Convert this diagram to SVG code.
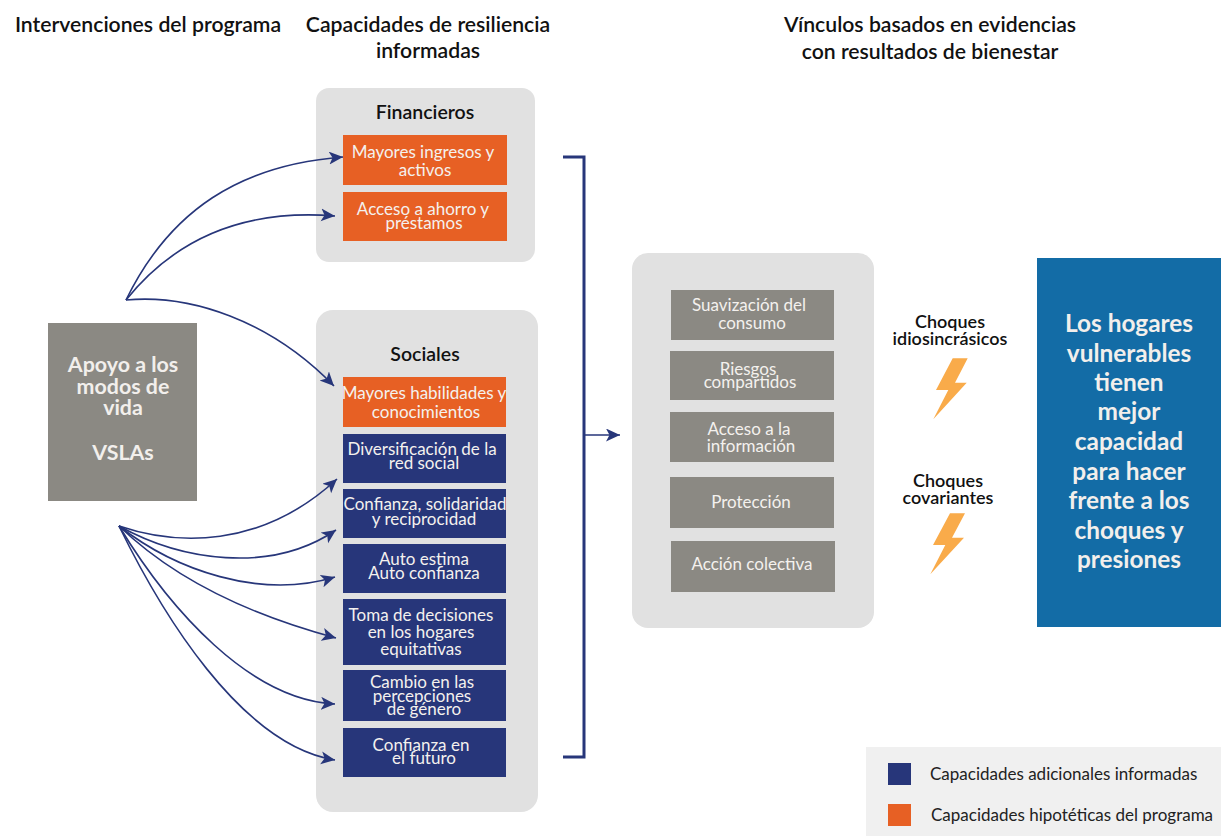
<svg xmlns="http://www.w3.org/2000/svg" width="1221" height="836" viewBox="0 0 1221 836">
<defs>
<marker id="ah" markerUnits="userSpaceOnUse" markerWidth="16" markerHeight="14" refX="14" refY="6.5" orient="auto"><path d="M0,0 L14,6.5 L0,13 L3.5,6.5 Z" fill="#27367a"/></marker>
</defs>
<style>
text{font-family:Lato,"Open Sans",sans-serif;text-anchor:middle}
.h{font-size:21.2px;font-weight:600;fill:#111}
.t{font-size:17px;fill:#f4f1ee}
.l{font-size:19.5px;font-weight:600;fill:#111}
.s{font-size:18px;font-weight:600;fill:#111}
.big{font-size:21.4px;font-weight:700;fill:#f2efec}
.res{font-size:24.4px;font-weight:700;fill:#f2efec}
.lg{font-size:17px;fill:#222;text-anchor:start}
.p{fill:#e1e1e1}.o{fill:#e76024}.b{fill:#27367a}.g{fill:#8b8983}
.c{fill:none;stroke:#27367a;stroke-width:1.6;marker-end:url(#ah)}
</style>
<rect width="1221" height="836" fill="#fff"/>
<g id="headers">
<text class="h" x="148" y="32">Intervenciones del programa</text>
<text class="h" x="428" y="32">Capacidades de resiliencia</text>
<text class="h" x="428" y="58">informadas</text>
<text class="h" x="930" y="32">Vínculos basados en evidencias</text>
<text class="h" x="930" y="59">con resultados de bienestar</text>
</g>
<g id="panel-financieros"><rect class="p" x="316" y="88" width="219" height="174" rx="13"/><text class="l" x="425" y="119">Financieros</text></g>
<g id="panel-sociales"><rect class="p" x="316" y="310" width="222" height="502" rx="17"/><text class="l" x="425" y="361">Sociales</text></g>
<g id="panel-vinculos"><rect class="p" x="632" y="253" width="242" height="375" rx="16"/></g>
<g id="apoyo"><rect class="g" x="48" y="323" width="149" height="178"/>
<text class="big" x="123" y="372">Apoyo a los</text><text class="big" x="123" y="394">modos de</text><text class="big" x="123" y="415">vida</text><text class="big" x="123" y="460">VSLAs</text></g>
<g id="f1"><rect class="o" x="343" y="135" width="164" height="50"/><text class="t" x="423" y="158">Mayores ingresos y</text><text class="t" x="425" y="176">activos</text></g>
<g id="f2"><rect class="o" x="343" y="192" width="164" height="49"/><text class="t" x="423" y="215">Acceso a ahorro y</text><text class="t" x="424" y="229">préstamos</text></g>
<g id="s1"><rect class="o" x="343" y="377" width="163" height="50"/><text class="t" x="424" y="399">Mayores habilidades y</text><text class="t" x="426" y="418">conocimientos</text></g>
<g id="s2"><rect class="b" x="343" y="434" width="163" height="49"/><text class="t" x="422" y="455">Diversificación de la</text><text class="t" x="424" y="469">red social</text></g>
<g id="s3"><rect class="b" x="343" y="489" width="163" height="49"/><text class="t" x="425" y="510">Confianza, solidaridad</text><text class="t" x="424" y="525">y reciprocidad</text></g>
<g id="s4"><rect class="b" x="343" y="544" width="163" height="49"/><text class="t" x="424" y="565">Auto estima</text><text class="t" x="424" y="579">Auto confianza</text></g>
<g id="s5"><rect class="b" x="343" y="599" width="163" height="66"/><text class="t" x="421" y="621">Toma de decisiones</text><text class="t" x="421" y="638">en los hogares</text><text class="t" x="421" y="655">equitativas</text></g>
<g id="s6"><rect class="b" x="343" y="670" width="163" height="51"/><text class="t" x="422" y="688">Cambio en las</text><text class="t" x="422" y="702">percepciones</text><text class="t" x="424" y="715">de género</text></g>
<g id="s7"><rect class="b" x="343" y="728" width="163" height="49"/><text class="t" x="421" y="751">Confianza en</text><text class="t" x="424" y="764">el futuro</text></g>
<g id="v1"><rect class="g" x="671" y="290" width="163" height="50"/><text class="t" x="749" y="311">Suavización del</text><text class="t" x="752" y="329">consumo</text></g>
<g id="v2"><rect class="g" x="670" y="351" width="164" height="49"/><text class="t" x="748" y="375">Riesgos</text><text class="t" x="750" y="388">compartidos</text></g>
<g id="v3"><rect class="g" x="670" y="412" width="164" height="50"/><text class="t" x="749" y="435">Acceso a la</text><text class="t" x="751" y="452">información</text></g>
<g id="v4"><rect class="g" x="670" y="477" width="164" height="51"/><text class="t" x="751" y="508">Protección</text></g>
<g id="v5"><rect class="g" x="671" y="541" width="164" height="51"/><text class="t" x="752" y="570">Acción colectiva</text></g>
<g id="choque1"><text class="s" x="950" y="328">Choques</text><text class="s" x="950" y="345">idiosincrásicos</text><polygon points="952.7,358.3 967.7,358.3 955,382.7 966.7,382.7 933.3,419.3 948.3,390 936,390" fill="#f9ab4a"/></g>
<g id="choque2"><text class="s" x="948" y="487">Choques</text><text class="s" x="948" y="504">covariantes</text><polygon points="950,513.3 965,513.3 952,537.7 964,537.7 930.3,574.3 945.3,545 933,545" fill="#f9ab4a"/></g>
<g id="resultado"><rect x="1037" y="258" width="184" height="369" fill="#136ca6"/>
<text class="res" x="1129" y="332">Los hogares</text><text class="res" x="1129" y="362">vulnerables</text><text class="res" x="1129" y="391">tienen</text><text class="res" x="1129" y="420">mejor</text><text class="res" x="1129" y="450">capacidad</text><text class="res" x="1129" y="480">para hacer</text><text class="res" x="1129" y="509">frente a los</text><text class="res" x="1129" y="539">choques y</text><text class="res" x="1129" y="568">presiones</text></g>
<g id="legend"><rect x="866" y="747" width="355" height="89" fill="#f0f0f0"/><rect class="b" x="888" y="763" width="23" height="22"/><rect class="o" x="888" y="804" width="23" height="22"/><text class="lg" x="930" y="780">Capacidades adicionales informadas</text><text class="lg" x="931" y="821">Capacidades hipotéticas del programa</text></g>
<g id="connectors">
<path class="c" d="M126,300 C170,210 240,165 343,157"/>
<path class="c" d="M126,300 C170,245 235,208 335,216"/>
<path class="c" d="M126,300 C190,294 270,320 334,386"/>
<path class="c" d="M119,526 C175,545 260,550 337,479"/>
<path class="c" d="M119,526 C180,560 270,575 336,530"/>
<path class="c" d="M119,526 C175,570 260,600 335,577"/>
<path class="c" d="M119,526 C175,580 250,615 336,638"/>
<path class="c" d="M119,526 C170,610 250,700 335,704"/>
<path class="c" d="M119,526 C160,610 240,745 335,760"/>
<path d="M563,157 H584 V757 H563" fill="none" stroke="#27367a" stroke-width="3"/>
<path class="c" d="M584,435 H620"/>
</g>
</svg>
